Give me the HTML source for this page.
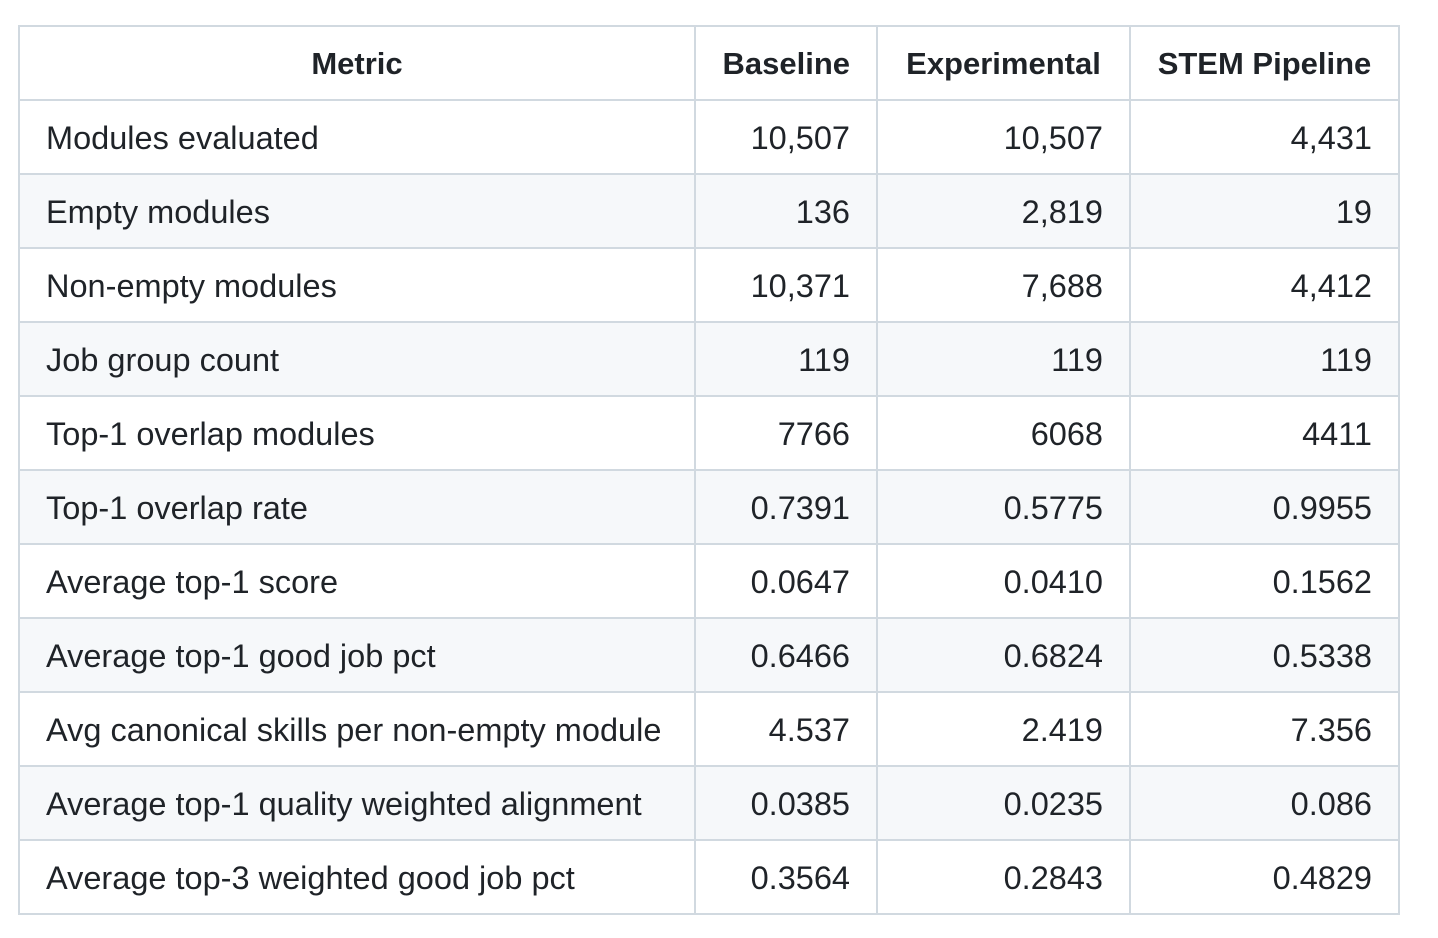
<!DOCTYPE html>
<html><head><meta charset="utf-8"><style>
html,body{margin:0;padding:0;background:#fff;width:1438px;height:938px;overflow:hidden}
table{position:absolute;left:18px;top:25px;border-collapse:collapse;font-family:"Liberation Sans",Helvetica,Arial,sans-serif;font-size:32.5px;color:#1f2328;table-layout:fixed;width:1380px}
td,th{border:2px solid #d1d9e0;height:70px;padding:2px 26px 0 26px;box-sizing:border-box;white-space:nowrap;overflow:visible}
tr{height:74px}
th{font-weight:bold;text-align:center;font-size:31px}
td.n{text-align:right}
tbody tr:nth-child(even){background:#f6f8fa}
</style></head><body>
<table>
<colgroup><col style="width:676px"><col style="width:182px"><col style="width:253px"><col style="width:269px"></colgroup>
<thead><tr><th>Metric</th><th style="text-align:right">Baseline</th><th>Experimental</th><th>STEM Pipeline</th></tr></thead>
<tbody>
<tr><td>Modules evaluated</td><td class="n">10,507</td><td class="n">10,507</td><td class="n">4,431</td></tr>
<tr><td>Empty modules</td><td class="n">136</td><td class="n">2,819</td><td class="n">19</td></tr>
<tr><td>Non-empty modules</td><td class="n">10,371</td><td class="n">7,688</td><td class="n">4,412</td></tr>
<tr><td>Job group count</td><td class="n">119</td><td class="n">119</td><td class="n">119</td></tr>
<tr><td>Top-1 overlap modules</td><td class="n">7766</td><td class="n">6068</td><td class="n">4411</td></tr>
<tr><td>Top-1 overlap rate</td><td class="n">0.7391</td><td class="n">0.5775</td><td class="n">0.9955</td></tr>
<tr><td>Average top-1 score</td><td class="n">0.0647</td><td class="n">0.0410</td><td class="n">0.1562</td></tr>
<tr><td>Average top-1 good job pct</td><td class="n">0.6466</td><td class="n">0.6824</td><td class="n">0.5338</td></tr>
<tr><td>Avg canonical skills per non-empty module</td><td class="n">4.537</td><td class="n">2.419</td><td class="n">7.356</td></tr>
<tr><td>Average top-1 quality weighted alignment</td><td class="n">0.0385</td><td class="n">0.0235</td><td class="n">0.086</td></tr>
<tr><td>Average top-3 weighted good job pct</td><td class="n">0.3564</td><td class="n">0.2843</td><td class="n">0.4829</td></tr>
</tbody></table>
</body></html>
